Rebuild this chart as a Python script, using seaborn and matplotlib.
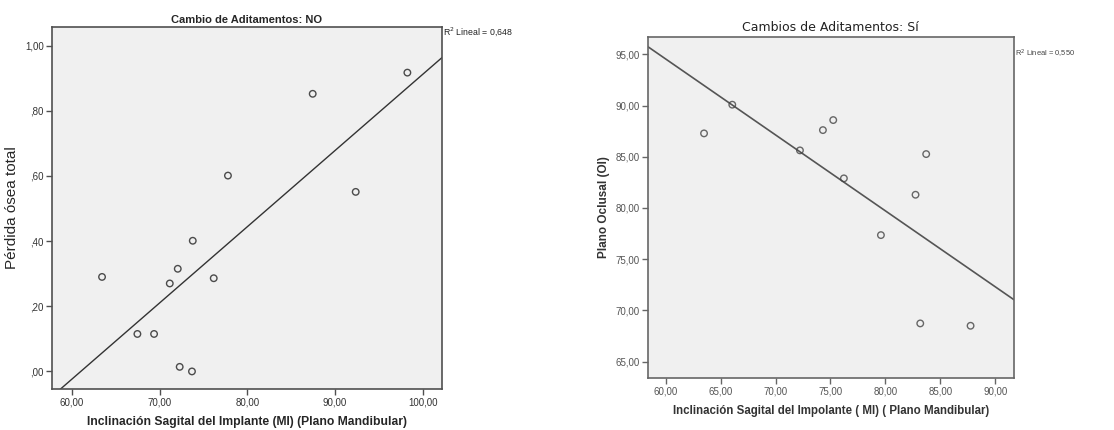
import matplotlib
matplotlib.use("Agg")
import matplotlib.pyplot as plt
from matplotlib.ticker import FixedLocator, FixedFormatter
import seaborn as sns
import pandas as pd

# Grupo sin cambio de aditamentos
inclinacion_no = [98.25, 87.46, 77.80, 92.36, 73.79, 72.08, 63.45,
                  71.17, 76.18, 67.48, 69.38, 72.30, 73.70]
perdida_no = [0.917, 0.852, 0.601, 0.551, 0.401, 0.315, 0.290,
              0.270, 0.286, 0.115, 0.115, 0.014, 0.000]

# Grupo con cambio de aditamentos
inclinacion_si = [63.49, 66.06, 72.22, 74.31, 75.25, 76.22, 83.71,
                  82.74, 79.59, 83.17, 87.75]
plano_si = [87.28, 90.08, 85.62, 87.60, 88.58, 82.89, 85.26,
            81.29, 77.35, 68.73, 68.50]

xticks_no = [60, 70, 80, 90, 100]
xlabels_no = ["60,00", "70,00", "80,00", "90,00", "100,00"]
yticks_no = [0.0, 0.2, 0.4, 0.6, 0.8, 1.0]
ylabels_no = [",00", ",20", ",40", ",60", ",80", "1,00"]

xticks_si = [60, 65, 70, 75, 80, 85, 90]
xlabels_si = ["60,00", "65,00", "70,00", "75,00", "80,00", "85,00", "90,00"]
yticks_si = [65, 70, 75, 80, 85, 90, 95]
ylabels_si = ["65,00", "70,00", "75,00", "80,00", "85,00", "90,00", "95,00"]

r2_no = "0,648"
r2_si = "0,550"

sns.set_style("white")
plt.rcParams["font.family"] = ["Liberation Sans", "DejaVu Sans"]

df_no = pd.DataFrame({"x": inclinacion_no, "y": perdida_no})
df_si = pd.DataFrame({"x": inclinacion_si, "y": plano_si})

fig = plt.figure(figsize=(11.14, 4.30), dpi=100)
ax1 = fig.add_axes([0.0467, 0.0953, 0.3501, 0.8419])
ax2 = fig.add_axes([0.5814, 0.1209, 0.3288, 0.7938])

narrow = ["Liberation Sans Narrow", "Liberation Sans", "DejaVu Sans"]


def style_axes(ax, xt, xl, yt, yl, xlim, ylim, frame, labelcolor):
    ax.set_facecolor("#f0f0f0")
    ax.set_xlim(*xlim)
    ax.set_ylim(*ylim)
    ax.xaxis.set_major_locator(FixedLocator(xt))
    ax.xaxis.set_major_formatter(FixedFormatter(xl))
    ax.yaxis.set_major_locator(FixedLocator(yt))
    ax.yaxis.set_major_formatter(FixedFormatter(yl))
    for side in ["top", "right", "left", "bottom"]:
        ax.spines[side].set_visible(True)
        ax.spines[side].set_color(frame)
        ax.spines[side].set_linewidth(1.2)
    ax.tick_params(axis="both", which="major", direction="out", length=4,
                   width=1, color=frame, labelsize=7, labelcolor=labelcolor,
                   bottom=True, left=True, top=False, right=False, pad=2)


style_axes(ax1, xticks_no, xlabels_no, yticks_no, ylabels_no,
           (57.75, 102.2), (-0.054, 1.057), "#505050", "#333333")
style_axes(ax2, xticks_si, xlabels_si, yticks_si, ylabels_si,
           (58.36, 91.7), (63.4, 96.72), "#666666", "#555555")

scatter_kws = dict(s=22, facecolors="none", edgecolors="#222222",
                   linewidths=1.0, zorder=3)

sns.regplot(data=df_no, x="x", y="y", ax=ax1, ci=None, truncate=False,
            scatter_kws=scatter_kws,
            line_kws=dict(color="#333333", linewidth=1.0))
sns.regplot(data=df_si, x="x", y="y", ax=ax2, ci=None, truncate=False,
            scatter_kws=dict(scatter_kws, edgecolors="#444444"),
            line_kws=dict(color="#555555", linewidth=1.2))

ax1.set_xlim(57.75, 102.2)
ax1.set_ylim(-0.054, 1.057)
ax2.set_xlim(58.36, 91.7)
ax2.set_ylim(63.4, 96.72)

ax1.set_title("Cambio de Aditamentos: NO", fontsize=8, fontweight="bold",
              family=narrow, pad=3)
ax1.set_xlabel("Inclinación Sagital del Implante (MI) (Plano Mandibular)",
               fontsize=8.7, fontweight="bold", family=narrow, labelpad=6)
ax1.set_ylabel("Pérdida ósea total", fontsize=11, labelpad=4)

ax2.set_title("Cambios de Aditamentos: Sí", fontsize=9, family=["DejaVu Sans"],
              color="#222222", pad=4)
ax2.set_xlabel("Inclinación Sagital del Impolante ( MI) ( Plano Mandibular)",
               fontsize=8.3, fontweight="bold", family=narrow, labelpad=6,
               color="#333333")
ax2.set_ylabel("Plano Oclusal (OI)", fontsize=8.5, fontweight="bold",
               family=narrow, labelpad=4, color="#333333")

ax1.text(1.002, 1.005, "R$^2$ Lineal = " + r2_no, transform=ax1.transAxes,
         fontsize=6.3, ha="left", va="top", color="#222222")
ax2.text(1.002, 0.949, "R$^2$ Lineal = " + r2_si, transform=ax2.transAxes,
         fontsize=5.4, ha="left", va="center", color="#444444")

fig.savefig("out.png", dpi=100, facecolor="white")
